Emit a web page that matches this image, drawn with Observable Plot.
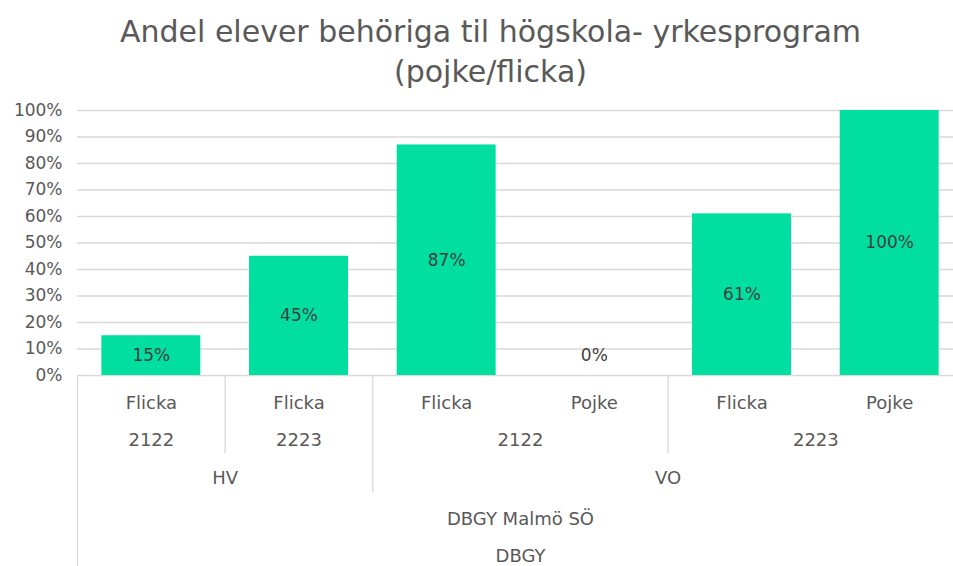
<!DOCTYPE html>
<html>
<head>
<meta charset="utf-8">
<script src="https://cdn.jsdelivr.net/npm/d3@7"></script>
<script src="https://cdn.jsdelivr.net/npm/@observablehq/plot@0.6"></script>
<style>
  html, body { margin: 0; padding: 0; background: #fff; overflow: hidden; }
  #title { height: 90px; box-sizing: border-box; padding-top: 12px; padding-left: 28px;
    text-align: center; font-family: "DejaVu Sans", sans-serif; font-size: 30px; line-height: 40px; color: #595959; }
  #chart svg { display: block; }
</style>
</head>
<body>
<div id="title">Andel elever behöriga til högskola- yrkesprogram<br>(pojke/flicka)</div>
<div id="chart"></div>
<script>
// Data
const sexLabels = ["Flicka", "Flicka", "Flicka", "Pojke", "Flicka", "Pojke"];
const values = [0.15, 0.45, 0.87, 0.00, 0.61, 1.00];
const yearGroups = [
  {label: "2122", start: 0, end: 1},
  {label: "2223", start: 1, end: 2},
  {label: "2122", start: 2, end: 4},
  {label: "2223", start: 4, end: 6}
];
const programGroups = [
  {label: "HV", start: 0, end: 2},
  {label: "VO", start: 2, end: 6}
];
const schoolGroups = [{label: "DBGY Malmö SÖ", start: 0, end: 6}];
const orgGroups = [{label: "DBGY", start: 0, end: 6}];
const yTicks = [0, 0.1, 0.2, 0.3, 0.4, 0.5, 0.6, 0.7, 0.8, 0.9, 1.0];

const bars = values.map((v, i) => ({i, v, sex: sexLabels[i]}));
const pad = 0.165;
const center = g => (g.start + g.end) / 2;

const font = "DejaVu Sans, sans-serif";
const gray = "#595959";
const catSize = 18;

// divider lines: depth (in y units below zero) per boundary
const pxPerUnit = 265;
const dividers = [
  {x: 0, depth: 191 / pxPerUnit},
  {x: 1, depth: 78 / pxPerUnit},
  {x: 2, depth: 117 / pxPerUnit},
  {x: 4, depth: 78 / pxPerUnit}
];

const chart = Plot.plot({
  width: 953,
  height: 476,
  marginLeft: 77,
  marginRight: -10,
  marginTop: 20,
  marginBottom: 191,
  style: {fontFamily: font, fontSize: "17px", color: gray, background: "white"},
  x: {type: "linear", domain: [0, 6], axis: null},
  y: {domain: [0, 1], ticks: yTicks, tickFormat: d3.format(".0%"), tickSize: 0, tickPadding: 15, label: null, grid: false},
  marks: [
    Plot.ruleY(yTicks, {stroke: "#d9d9d9", strokeWidth: 1.3}),
    Plot.rectY(bars, {x1: d => d.i + pad, x2: d => d.i + 1 - pad, y: "v", fill: "#00df9f"}),
    Plot.text(bars.filter(d => d.v > 0), {x: d => d.i + 0.5, y: d => d.v / 2, text: d => d3.format(".0%")(d.v), fill: "#404040", fontSize: 17}),
    Plot.text(bars.filter(d => d.v === 0), {x: d => d.i + 0.5, y: "v", dy: -20, text: d => d3.format(".0%")(d.v), fill: "#404040", fontSize: 17}),
    Plot.ruleX(dividers, {x: "x", y1: 0, y2: d => -d.depth, stroke: "#d9d9d9", strokeWidth: 1.3}),
    Plot.text(bars, {x: d => d.i + 0.5, y: 0, dy: 28, text: "sex", fill: gray, fontSize: catSize}),
    Plot.text(yearGroups, {x: center, y: 0, dy: 65, text: "label", fill: gray, fontSize: catSize}),
    Plot.text(programGroups, {x: center, y: 0, dy: 103, text: "label", fill: gray, fontSize: catSize}),
    Plot.text(schoolGroups, {x: center, y: 0, dy: 144, text: "label", fill: gray, fontSize: catSize}),
    Plot.text(orgGroups, {x: center, y: 0, dy: 181, text: "label", fill: gray, fontSize: catSize})
  ]
});
document.getElementById("chart").appendChild(chart);
</script>
</body>
</html>
